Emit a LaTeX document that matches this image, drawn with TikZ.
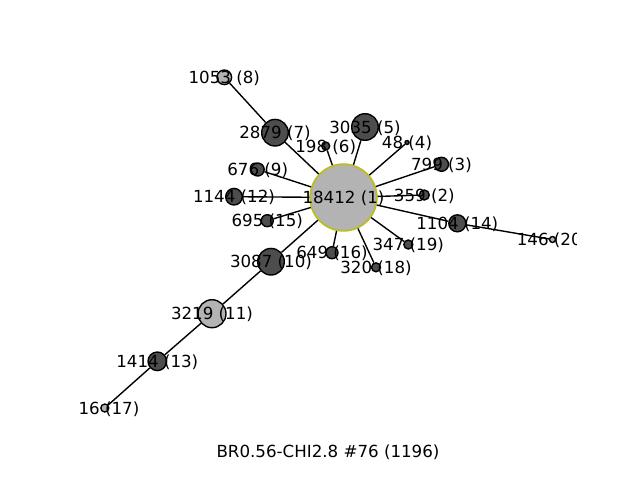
\documentclass[tikz,border=0pt]{standalone}
\usepackage{fontspec}
\setmainfont{DejaVu Sans}
\definecolor{dk}{HTML}{4D4D4D}
\definecolor{lt}{HTML}{B3B3B3}
\definecolor{olv}{HTML}{BCBD22}
\begin{document}
\begin{tikzpicture}[x=0.72pt,y=-0.72pt,
  nd/.style={circle,inner sep=0pt,draw=black,line width=1pt,minimum size=#1*1.44pt},
  dark/.style={nd=#1,fill=dk},
  light/.style={nd=#1,fill=lt},
  lab/.style={inner sep=0pt,yshift=-0.7pt,font=\fontsize{12pt}{14pt}\selectfont},
  edge/.style={line width=1pt,black}]
\useasboundingbox (0,0) rectangle (640,480);
% nodes
\node[light=33.3,draw=olv,line width=1.3pt] (n1) at (343.5,197.5) {};
\node[dark=5]    (n2)  at (424.3,195) {};
\node[dark=7]    (n3)  at (441.5,164.3) {};
\node[dark=2]    (n4)  at (407,142.5) {};
\node[dark=13.3] (n5)  at (365,127) {};
\node[dark=4]    (n6)  at (325.7,146) {};
\node[dark=13.3] (n7)  at (275,132.7) {};
\node[light=7.3] (n8)  at (224.3,77.3) {};
\node[dark=6.5]  (n9)  at (257.7,169.5) {};
\node[dark=13.3] (n10) at (271,261.7) {};
\node[light=14]  (n11) at (212,313.7) {};
\node[dark=8.3]  (n12) at (234,196.7) {};
\node[dark=9.3]  (n13) at (157.3,361.3) {};
\node[dark=8.5]  (n14) at (457.3,223.3) {};
\node[dark=6]    (n15) at (267.3,220.7) {};
\node[dark=6]    (n16) at (332,252.7) {};
\node[light=4]   (n17) at (104.8,408) {};
\node[dark=4.5]  (n18) at (376,267.3) {};
\node[dark=4.5]  (n19) at (408.3,244.5) {};
\node[light=3]   (n20) at (552.5,239.5) {};
% edges
\foreach \t in {n2,n3,n4,n5,n6,n7,n9,n10,n12,n14,n15,n16,n18,n19}
  \draw[edge] (n1) -- (\t);
\draw[edge] (n7) -- (n8);
\draw[edge] (n10) -- (n11);
\draw[edge] (n11) -- (n13);
\draw[edge] (n13) -- (n17);
\draw[edge] (n14) -- (n20);
% labels
\begin{scope}
\clip (80,57.6) rectangle (576,427.2);
\node[lab] (l1)  at (n1)  {18412 (1)};
\node[lab] (l2)  at (n2)  {359 (2)};
\node[lab] (l3)  at (n3)  {799 (3)};
\node[lab] (l4)  at (n4)  {48 (4)};
\node[lab] (l5)  at (n5)  {3035 (5)};
\node[lab] (l6)  at (n6)  {198 (6)};
\node[lab] (l7)  at (n7)  {2879 (7)};
\node[lab] (l8)  at (n8)  {1053 (8)};
\node[lab] (l9)  at (n9)  {676 (9)};
\node[lab] (l10) at (n10) {3087 (10)};
\node[lab] (l11) at (n11) {3219 (11)};
\node[lab] (l12) at (n12) {1144 (12)};
\node[lab] (l13) at (n13) {1414 (13)};
\node[lab] (l14) at (n14) {1104 (14)};
\node[lab] (l15) at (n15) {695 (15)};
\node[lab] (l16) at (n16) {649 (16)};
\node[lab] (l17) at (109,408) {16 (17)};
\node[lab] (l18) at (n18) {320 (18)};
\node[lab] (l19) at (n19) {347 (19)};
\node[lab] (l20) at (n20) {146 (20)};
\end{scope}
\node[lab] (title) at (328,451) {BR0.56-CHI2.8 \#76 (1196)};
\end{tikzpicture}
\end{document}
